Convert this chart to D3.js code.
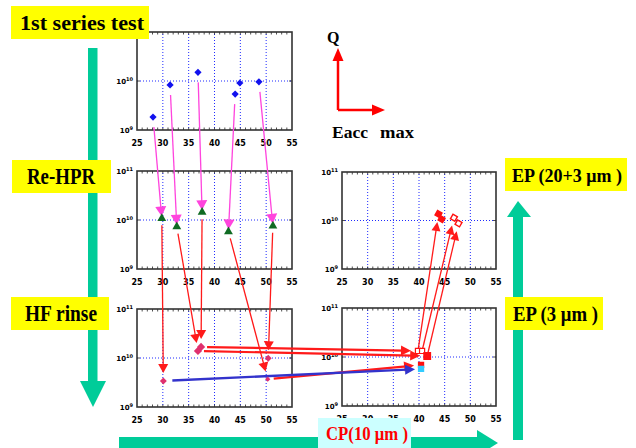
<!DOCTYPE html>
<html>
<head>
<meta charset="utf-8">
<script src="https://cdn.jsdelivr.net/npm/d3@7/dist/d3.min.js"></script>
<style>
body{margin:0;background:#fff}
svg{display:block}
</style>
</head>
<body>
<script>
// axis ticks
var eaccTicks = [25, 30, 35, 40, 45, 50, 55];
var gridEacc = [30, 35, 40, 45, 50];
var qTicks = [1e9, 1e10, 1e11];

// [Eacc max (MV/m), Q0]
var firstSeries = [[28.1, 1.84e9], [31.4, 8.3e9], [36.8, 1.5e10], [44.0, 5.4e9], [44.9, 9.1e9], [48.6, 9.6e9]];
var reHpr = [[29.8, 1.08e10], [32.7, 7.3e9], [37.6, 1.44e10], [42.7, 5.8e9], [51.3, 7.6e9]];
var hfRinse = [[30.1, 3.4e9], [36.8, 1.39e10], [37.4, 1.68e10], [50.4, 9.9e9], [50.3, 3.7e9]];
var ep3 = [[39.8, 1.33e10], [40.6, 1.33e10], [41.6, 1.05e10], [40.4, 6.9e9], [40.4, 5.7e9]];
var ep3Kind = ["open", "open", "filled", "small", "cyan"];
var ep23 = [[43.8, 1.36e10], [44.4, 1.07e10], [46.8, 1.14e10], [47.7, 8.7e9]];
var ep23Kind = ["filled", "filled", "open", "open"];

// which point goes where: [from index, to index]
var hprLinks = [[0, 0], [1, 1], [2, 2], [3, 3], [5, 4]];
var rinseLinks = [[0, 0], [1, 1], [2, 2], [3, 4], [4, 3]];
var cpLinks = [[2, 0], [1, 2], [4, 3]];
var cpBlueLinks = [[0, 4]];
var epLinks = [[0, 0], [1, 2], [2, 3]];

var width = 636, height = 448;
var svg = d3.select("body").append("svg")
		.attr("width", width)
		.attr("height", height);

var green = "#00cc99";

// big process arrows
var flow = svg.append("g").attr("id", "flow").attr("fill", green);
flow.append("rect").attr("x", 88).attr("y", 48).attr("width", 9.5).attr("height", 334);
flow.append("path").attr("d", "M80,381L106,381L93,407Z");
flow.append("rect").attr("x", 119).attr("y", 437).attr("width", 359).attr("height", 11);
flow.append("path").attr("d", "M477,430L477,456L498,443Z");
flow.append("rect").attr("x", 513).attr("y", 216).attr("width", 10).attr("height", 224);
flow.append("path").attr("d", "M507,217L531,217L518,201Z");

// top label of panel A sits under the "1st series test" box, so it is left out
var panels = {
	A: {x: 137, y: 32, w: 155, h: 98, q: [1e9, 1e10]},
	B: {x: 137, y: 171, w: 155, h: 98, q: qTicks},
	C: {x: 137, y: 309, w: 155, h: 98, q: qTicks},
	D: {x: 342, y: 172, w: 154, h: 97, q: qTicks},
	E: {x: 342, y: 308, w: 154, h: 98, q: qTicks}
};

function buildPanel(p) {
	p.sx = d3.scaleLinear().domain([25, 55]).range([p.x, p.x + p.w]);
	p.sy = d3.scaleLog().domain([1e9, 1e11]).range([p.y + p.h, p.y]);
	var g = svg.append("g").attr("class", "panel");

	var grid = g.append("g")
			.attr("stroke", "#1f2bff")
			.attr("stroke-width", 1)
			.attr("stroke-dasharray", "1,2");
	grid.selectAll("line.v")
			.data(gridEacc)
			.enter()
			.append("line")
			.attr("x1", function(d) {return p.sx(d)})
			.attr("x2", function(d) {return p.sx(d)})
			.attr("y1", p.y + 2)
			.attr("y2", p.y + p.h);
	grid.append("line")
			.attr("x1", p.x)
			.attr("x2", p.x + p.w)
			.attr("y1", p.sy(1e10))
			.attr("y2", p.sy(1e10));

	var minor = d3.range(26, 55, 1);
	var ticks = g.append("g").attr("stroke", "#222").attr("stroke-width", 0.8);
	ticks.selectAll("line.t")
			.data(minor)
			.enter()
			.append("line")
			.attr("x1", function(d) {return p.sx(d)})
			.attr("x2", function(d) {return p.sx(d)})
			.attr("y1", p.y)
			.attr("y2", p.y + 2.5);
	ticks.selectAll("line.b")
			.data(minor)
			.enter()
			.append("line")
			.attr("x1", function(d) {return p.sx(d)})
			.attr("x2", function(d) {return p.sx(d)})
			.attr("y1", p.y + p.h)
			.attr("y2", p.y + p.h - 2.5);
	ticks.append("line").attr("x1", p.x).attr("x2", p.x + 3)
			.attr("y1", p.sy(1e10)).attr("y2", p.sy(1e10));
	ticks.append("line").attr("x1", p.x + p.w).attr("x2", p.x + p.w - 3)
			.attr("y1", p.sy(1e10)).attr("y2", p.sy(1e10));

	g.append("rect")
			.attr("x", p.x)
			.attr("y", p.y)
			.attr("width", p.w)
			.attr("height", p.h)
			.attr("fill", "none")
			.attr("stroke", "#333")
			.attr("stroke-width", 1.6);

	g.append("g").selectAll("text")
			.data(eaccTicks)
			.enter()
			.append("text")
			.attr("x", function(d) {return p.sx(d)})
			.attr("y", p.y + p.h + 16)
			.attr("text-anchor", "middle")
			.style("font", "bold 8px 'DejaVu Sans'")
			.text(function(d) {return d});

	var yl = g.append("g").selectAll("text")
			.data(p.q)
			.enter()
			.append("text")
			.attr("x", p.x - 4)
			.attr("y", function(d) {return p.sy(d) + 3})
			.attr("text-anchor", "end")
			.style("font", "bold 7px 'DejaVu Sans'");
	yl.append("tspan").text("10");
	yl.append("tspan")
			.attr("dy", -3)
			.style("font-size", "5px")
			.text(function(d) {return Math.round(Math.log10(d))});
	return g;
}

for (var k in panels) buildPanel(panels[k]);

function pos(p, d) {return [p.sx(d[0]), p.sy(d[1])];}

function arrow(g, a, b, o) {
	var dx = b[0] - a[0], dy = b[1] - a[1];
	var L = Math.sqrt(dx * dx + dy * dy), ux = dx / L, uy = dy / L;
	var sx = a[0] + ux * o.gap1, sy = a[1] + uy * o.gap1;
	var tx = b[0] - ux * o.gap2, ty = b[1] - uy * o.gap2;
	var bx = tx - ux * o.head, by = ty - uy * o.head;
	g.append("line")
			.attr("x1", sx).attr("y1", sy)
			.attr("x2", bx + ux * 2).attr("y2", by + uy * 2)
			.attr("stroke", o.color)
			.attr("stroke-width", o.lw);
	g.append("path")
			.attr("d", "M" + tx + "," + ty +
				"L" + (bx - uy * o.hw) + "," + (by + ux * o.hw) +
				"L" + (bx + uy * o.hw) + "," + (by - ux * o.hw) + "Z")
			.attr("fill", o.color);
}

var links = svg.append("g").attr("id", "links");

// points
var square = d3.symbol().type(d3.symbolSquare);
var A = panels.A, B = panels.B, C = panels.C, D = panels.D, E = panels.E;

svg.append("g").selectAll("path")
		.data(firstSeries)
		.enter()
		.append("path")
		.attr("d", square.size(26)())
		.attr("transform", function(d) {var q = pos(A, d); return "translate(" + q + ") rotate(45)";})
		.attr("fill", "#1111ee");

svg.append("g").selectAll("path")
		.data(reHpr)
		.enter()
		.append("path")
		.attr("d", d3.symbol().type(d3.symbolTriangle).size(34)())
		.attr("transform", function(d) {return "translate(" + pos(B, d) + ")";})
		.attr("fill", "#0f6b22");

svg.append("g").selectAll("path")
		.data(hfRinse)
		.enter()
		.append("path")
		.attr("d", function(d, i) {return square.size(i == 1 || i == 2 ? 34 : i == 4 ? 14 : 24)();})
		.attr("transform", function(d) {return "translate(" + pos(C, d) + ") rotate(45)";})
		.attr("fill", "#e0306e");

var epG = svg.append("g");
epG.selectAll("path")
		.data(ep3)
		.enter()
		.append("path")
		.attr("d", function(d, i) {return square.size(ep3Kind[i] == "filled" ? 44 : 26)();})
		.attr("transform", function(d) {return "translate(" + pos(E, d) + ")";})
		.attr("fill", function(d, i) {
			var t = ep3Kind[i];
			return t == "open" ? "#fff" : t == "cyan" ? "#33ccff" : "#ff1010";
		})
		.attr("stroke", function(d, i) {return ep3Kind[i] == "cyan" ? "#33ccff" : "#ff1010";})
		.attr("stroke-width", 1.2);

epG.selectAll("path.d")
		.data(ep23)
		.enter()
		.append("path")
		.attr("d", square.size(26)())
		.attr("transform", function(d) {return "translate(" + pos(D, d) + ") rotate(30)";})
		.attr("fill", function(d, i) {return ep23Kind[i] == "open" ? "#fff" : "#ff1010";})
		.attr("stroke", "#ff1010")
		.attr("stroke-width", 1.4);

hprLinks.forEach(function(l) {
	arrow(links, pos(A, firstSeries[l[0]]), pos(B, reHpr[l[1]]),
		{gap1: 10, gap2: 2, head: 10, hw: 5.5, lw: 1.3, color: "#ff44dd"});
});
rinseLinks.forEach(function(l) {
	arrow(links, pos(B, reHpr[l[0]]), pos(C, hfRinse[l[1]]),
		{gap1: 7, gap2: 8, head: 9, hw: 5, lw: 1.3, color: "#ff1a1a"});
});
cpLinks.forEach(function(l) {
	arrow(links, pos(C, hfRinse[l[0]]), pos(E, ep3[l[1]]),
		{gap1: 6, gap2: 7, head: 10, hw: 5, lw: 2.2, color: "#ff1a1a"});
});
cpBlueLinks.forEach(function(l) {
	arrow(links, pos(C, hfRinse[l[0]]), pos(E, ep3[l[1]]),
		{gap1: 9, gap2: 6, head: 10, hw: 5, lw: 2.4, color: "#3333cc"});
});
epLinks.forEach(function(l) {
	arrow(links, pos(E, ep3[l[0]]), pos(D, ep23[l[1]]),
		{gap1: 2, gap2: 8, head: 9, hw: 4.5, lw: 1.3, color: "#ff1a1a"});
});

// Q / Eacc key
var key = svg.append("g").attr("fill", "#ff0000");
key.append("path").attr("d", "M338,110L338,58").attr("stroke", "#ff0000").attr("stroke-width", 2.5);
key.append("path").attr("d", "M338,110L374,110").attr("stroke", "#ff0000").attr("stroke-width", 2.5);
key.append("path").attr("d", "M332.5,61L343.5,61L338,48Z");
key.append("path").attr("d", "M372,104.5L372,115.5L385,110Z");
var serif = "'Liberation Serif', 'DejaVu Serif', serif";
svg.append("text").attr("x", 327).attr("y", 43).style("font", "bold 16px " + serif).text("Q");
svg.append("text").attr("x", 332).attr("y", 138).style("font", "bold 16px " + serif)
		.attr("textLength", 36).attr("lengthAdjust", "spacingAndGlyphs").text("Eacc");
svg.append("text").attr("x", 380).attr("y", 138).style("font", "bold 16px " + serif)
		.attr("textLength", 34).attr("lengthAdjust", "spacingAndGlyphs").text("max");

// step labels
var labels = [
	{text: "1st series test", x: 11, y: 6, w: 138, h: 33, tx: 20, tl: 124, fill: "#ffff00", color: "#000", size: 22},
	{text: "Re-HPR", x: 12, y: 160, w: 99, h: 33, tx: 27, tl: 68, fill: "#ffff00", color: "#000", size: 24},
	{text: "HF rinse", x: 11, y: 297, w: 98, h: 33, tx: 25, tl: 72, fill: "#ffff00", color: "#000", size: 23},
	{text: "EP (20+3 μm )", x: 505, y: 158, w: 122, h: 33, tx: 512, tl: 110, fill: "#ffff00", color: "#000", size: 19},
	{text: "EP (3 μm )", x: 505, y: 297, w: 98, h: 33, tx: 513, tl: 85, fill: "#ffff00", color: "#000", size: 21},
	{text: "CP(10 μm )", x: 318, y: 418, w: 93, h: 30, tx: 326, tl: 82, fill: "#ccffff", color: "#ff0000", size: 19}
];
var lab = svg.append("g").selectAll("g")
		.data(labels)
		.enter()
		.append("g");
lab.append("rect")
		.attr("x", function(d) {return d.x})
		.attr("y", function(d) {return d.y})
		.attr("width", function(d) {return d.w})
		.attr("height", function(d) {return d.h})
		.attr("fill", function(d) {return d.fill});
lab.append("text")
		.attr("x", function(d) {return d.tx})
		.attr("y", function(d) {return d.y + d.h / 2 + 7})
		.attr("textLength", function(d) {return d.tl})
		.attr("lengthAdjust", "spacingAndGlyphs")
		.attr("fill", function(d) {return d.color})
		.style("font-family", serif)
		.style("font-weight", "bold")
		.style("font-size", function(d) {return d.size + "px"})
		.text(function(d) {return d.text});
</script>
</body>
</html>
